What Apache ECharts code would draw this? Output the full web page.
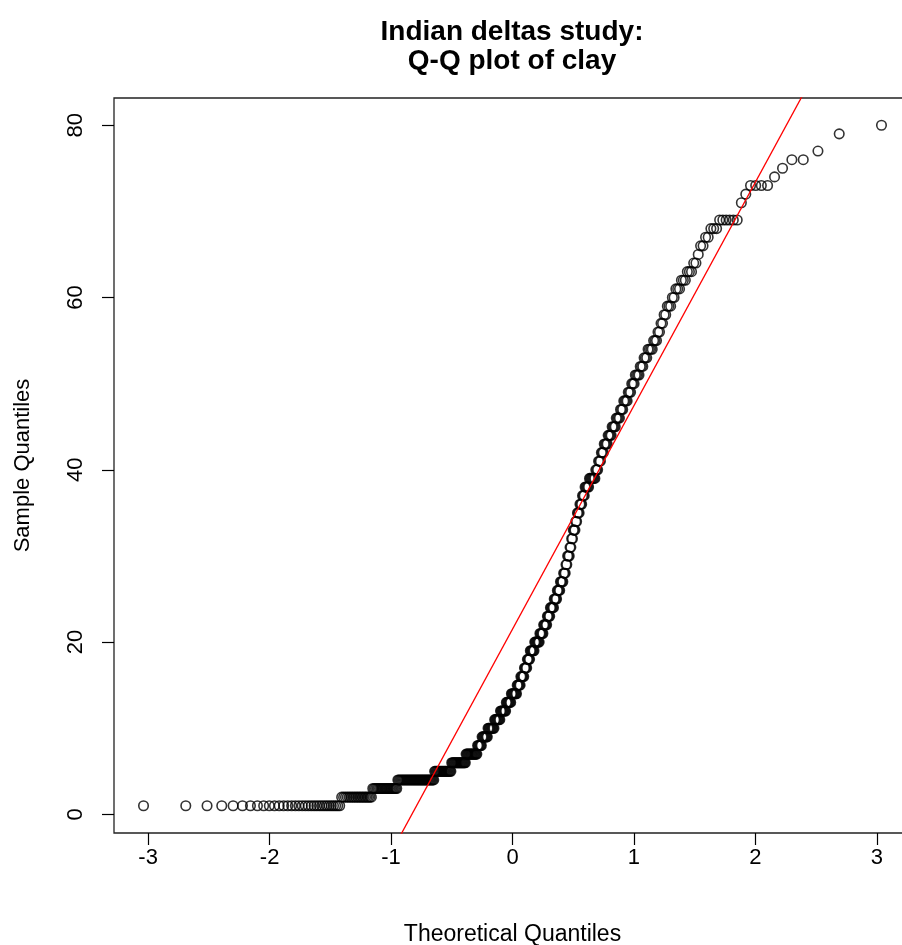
<!DOCTYPE html>
<html><head><meta charset="utf-8">
<script src="https://cdn.jsdelivr.net/npm/echarts@6/dist/echarts.min.js"></script>
<style>html,body{margin:0;padding:0;background:#fff}#chart{width:902px;height:945px}</style>
</head><body><div id="chart"></div>
<script>
// ---- data ----
const titleLines = ['Indian deltas study:', 'Q-Q plot of clay'];
const xAxisTitle = 'Theoretical Quantiles';
const yAxisTitle = 'Sample Quantiles';
const xTickValues = [-3, -2, -1, 0, 1, 2, 3];
const yTickValues = [0, 20, 40, 60, 80];
// distinct clay values (sorted) and how many samples take each value
const clayValues = [1,2,3,4,5,6,7,8,9,10,11,12,13,14,15,16,17,18,19,20,21,22,23,24,25,26,27,28,29,30,31,32,33,34,35,36,37,38,39,40,41,42,43,44,45,46,47,48,49,50,51,52,53,54,55,56,57,58,59,60,61,62,63,64,65,66,67,68,69,71,72,73,74,75,76,77,79,80];
const clayCounts = [33,19,20,37,20,18,15,6,8,9,8,8,7,8,5,5,4,4,6,7,5,5,4,5,4,4,4,3,2,3,2,2,3,2,3,3,3,5,7,3,3,3,4,4,4,4,3,4,3,3,4,3,3,4,3,2,2,2,3,2,3,3,3,2,1,2,2,3,6,1,1,4,1,1,2,1,1,1];

// ---- Q-Q plot computations (as R's qqnorm / qqline) ----
function qnorm(p){
  const a=[-3.969683028665376e+01,2.209460984245205e+02,-2.759285104469687e+02,1.383577518672690e+02,-3.066479806614716e+01,2.506628277459239e+00];
  const b=[-5.447609879822406e+01,1.615858368580409e+02,-1.556989798598866e+02,6.680131188771972e+01,-1.328068155288572e+01];
  const c=[-7.784894002430293e-03,-3.223964580411365e-01,-2.400758277161838e+00,-2.549732539343734e+00,4.374664141464968e+00,2.938163982698783e+00];
  const d=[7.784695709041462e-03,3.224671290700398e-01,2.445134137142996e+00,3.754408661907416e+00];
  const pl=0.02425, ph=1-pl; let q,r;
  if(p<pl){q=Math.sqrt(-2*Math.log(p));return (((((c[0]*q+c[1])*q+c[2])*q+c[3])*q+c[4])*q+c[5])/((((d[0]*q+d[1])*q+d[2])*q+d[3])*q+1);}
  if(p<=ph){q=p-0.5;r=q*q;return (((((a[0]*r+a[1])*r+a[2])*r+a[3])*r+a[4])*r+a[5])*q/(((((b[0]*r+b[1])*r+b[2])*r+b[3])*r+b[4])*r+1);}
  q=Math.sqrt(-2*Math.log(1-p));return -(((((c[0]*q+c[1])*q+c[2])*q+c[3])*q+c[4])*q+c[5])/((((d[0]*q+d[1])*q+d[2])*q+d[3])*q+1);
}
function quantile7(s,p){const h=(s.length-1)*p;const lo=Math.floor(h);const hi=Math.min(lo+1,s.length-1);return s[lo]+(h-lo)*(s[hi]-s[lo]);}

const sample = [];
clayValues.forEach((v,k)=>{for(let j=0;j<clayCounts[k];j++) sample.push(v);});
const n = sample.length;
const points = sample.map((v,i)=>[qnorm((i+0.5)/n), v]);
const xs = points.map(p=>p[0]);
const xr = [Math.min(...xs), Math.max(...xs)];
const yr = [sample[0], sample[n-1]];
const xMin = xr[0]-0.04*(xr[1]-xr[0]), xMax = xr[1]+0.04*(xr[1]-xr[0]);
const yMin = yr[0]-0.04*(yr[1]-yr[0]), yMax = yr[1]+0.04*(yr[1]-yr[0]);
const q1 = quantile7(sample,0.25), q3 = quantile7(sample,0.75);
const slope = (q3-q1)/(qnorm(0.75)-qnorm(0.25));
const intercept = q1 - slope*qnorm(0.25);
const linePts = [[xMin, intercept+slope*xMin],[xMax, intercept+slope*xMax]];

const FONT = "'Liberation Sans', Arial, Helvetica, sans-serif";
const chart = echarts.init(document.getElementById('chart'), null, {renderer:'canvas'});
chart.setOption({
  animation:false,
  backgroundColor:'#fff',
  textStyle:{fontFamily:FONT},
  graphic:[
    {type:'text', x:512, y:32, style:{text:titleLines[0], fill:'#000', font:"bold 28px "+FONT, textAlign:'center', textVerticalAlign:'middle'}},
    {type:'text', x:512, y:61, style:{text:titleLines[1], fill:'#000', font:"bold 28px "+FONT, textAlign:'center', textVerticalAlign:'middle'}}
  ],
  grid:{left:114, top:98, width:797, height:735, show:true, borderColor:'#222', borderWidth:1.3, backgroundColor:'transparent', containLabel:false, outerBoundsMode:'none'},
  xAxis:{type:'value', min:xMin, max:xMax,
    axisLine:{show:false, onZero:false},
    splitLine:{show:false},
    axisTick:{show:true, length:12, lineStyle:{color:'#000', width:1.2}, customValues:xTickValues},
    axisLabel:{fontSize:22, color:'#000', margin:14, fontFamily:FONT, customValues:xTickValues, formatter:v=>String(v)},
    name:xAxisTitle, nameLocation:'middle', nameGap:90, nameTextStyle:{fontSize:23, color:'#000', fontFamily:FONT}},
  yAxis:{type:'value', min:yMin, max:yMax,
    axisLine:{show:false, onZero:false},
    splitLine:{show:false},
    axisTick:{show:true, length:12, lineStyle:{color:'#000', width:1.2}, customValues:yTickValues},
    axisLabel:{fontSize:22, color:'#000', margin:27, rotate:90, fontFamily:FONT, customValues:yTickValues, formatter:v=>String(v)},
    name:yAxisTitle, nameLocation:'middle', nameGap:80, nameTextStyle:{fontSize:22, color:'#000', fontFamily:FONT}},
  series:[
    {type:'scatter', data:points, symbol:'circle', symbolSize:9.5,
      itemStyle:{color:'rgba(0,0,0,0)', borderColor:'#000', borderWidth:1.6}, z:2, silent:true},
    {type:'line', data:linePts, symbol:'none', clip:true,
      lineStyle:{color:'#ff0000', width:1.3}, z:3, silent:true}
  ]
});
</script></body></html>
